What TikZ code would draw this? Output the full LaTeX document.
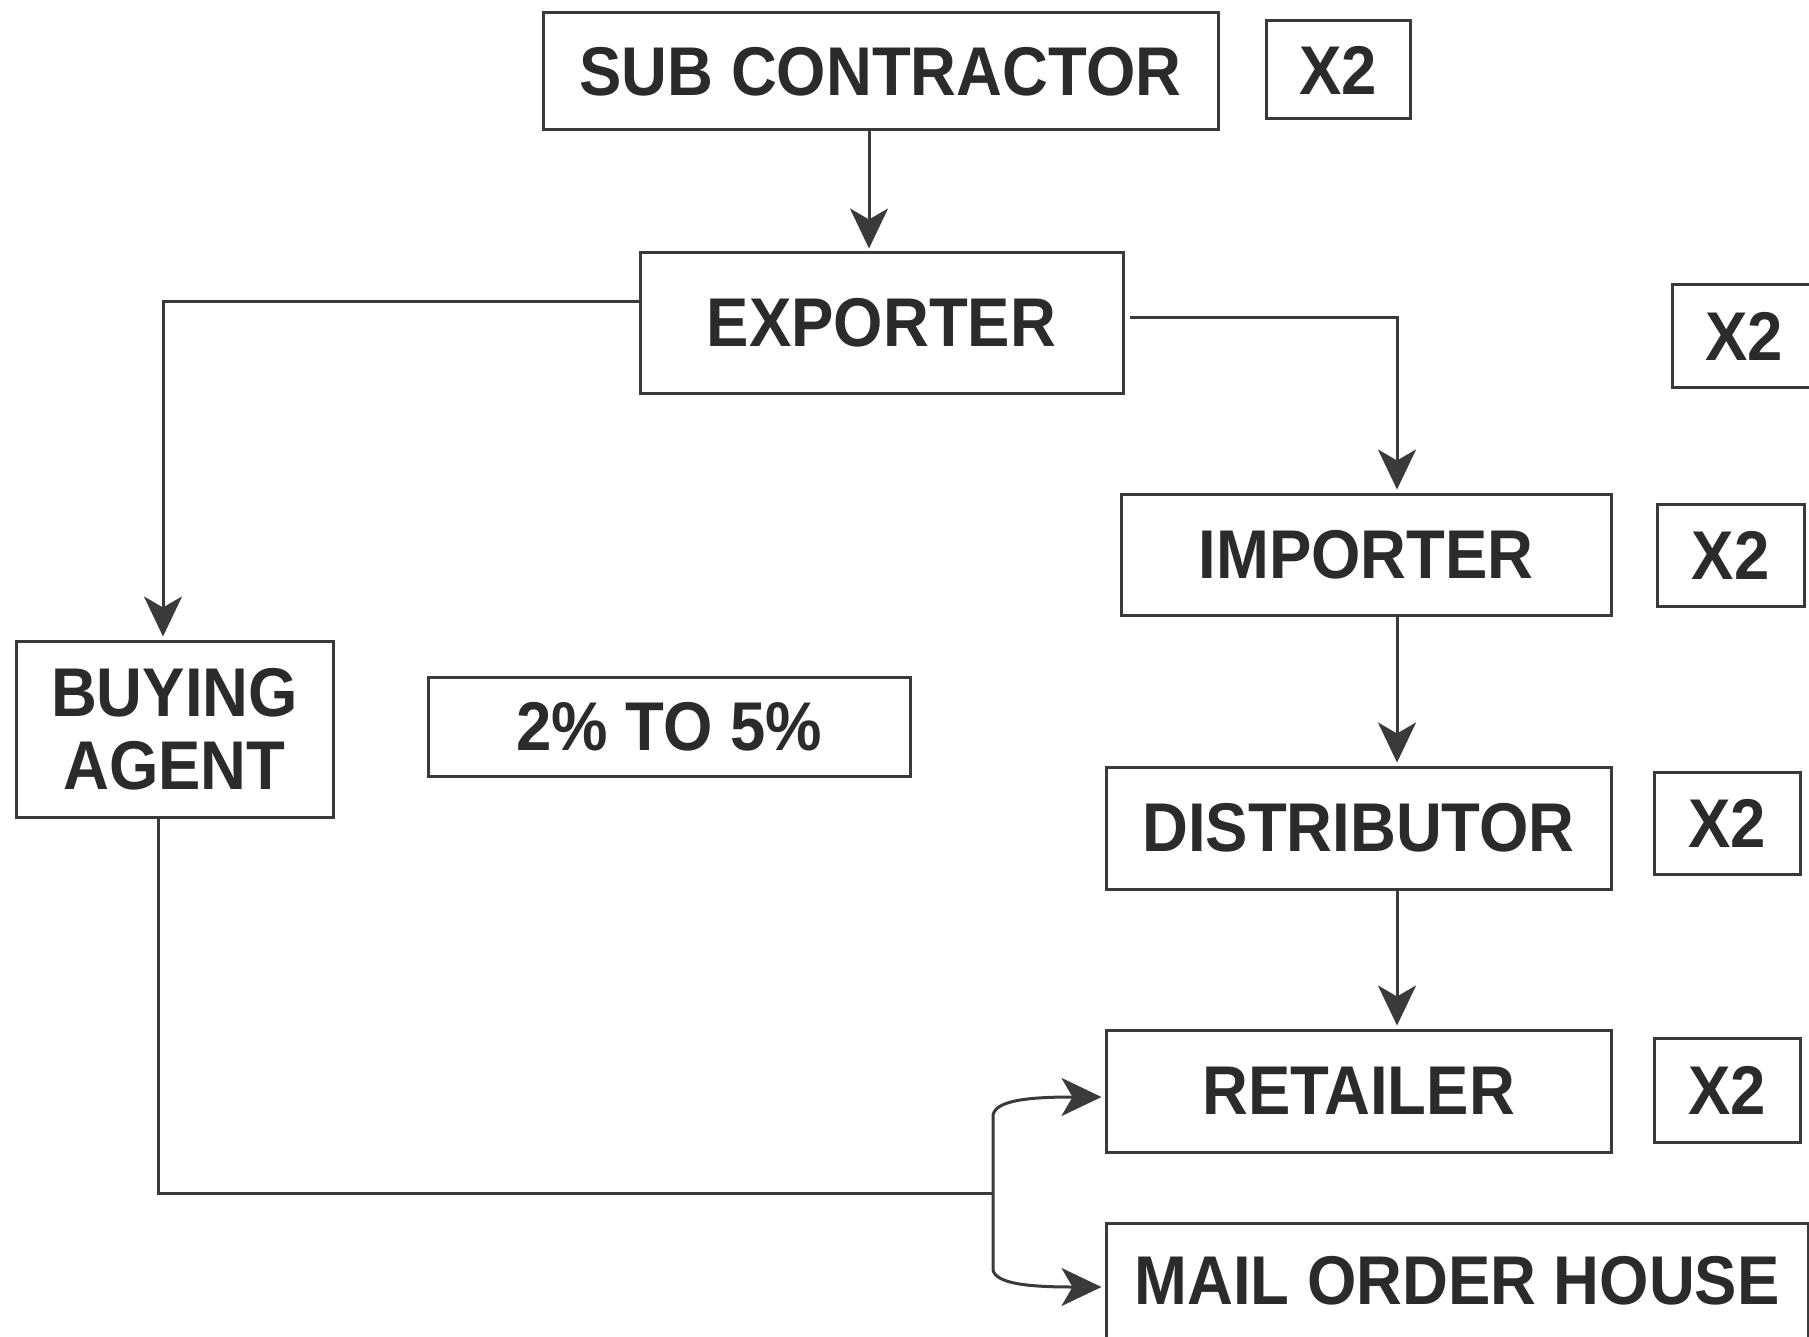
\documentclass[tikz,border=0pt]{standalone}
\usepackage{fontspec}
\setmainfont{Liberation Sans}
\newfontfamily\boxfont[FakeStretch=0.92]{Liberation Sans Bold}
\usetikzlibrary{arrows.meta}
\definecolor{ink}{HTML}{2B2B2B}
\definecolor{linec}{HTML}{3A3A3A}
\tikzset{
  bx/.style={draw=linec, line width=3pt, rectangle, inner sep=0pt, text=ink,
    font=\boxfont\fontsize{69}{73}\selectfont, align=center},
  conn/.style={draw=linec, line width=3pt},
  arr/.style={conn, -{Stealth[length=40pt,width=38pt,inset=11pt]}, shorten >=3pt}
}
\begin{document}
\begin{tikzpicture}[x=1pt,y=-1pt]
\clip (0,0) rectangle (1809,1337);
\fill[white] (0,0) rectangle (1809,1337);
% boxes
\node[bx, minimum width=675pt, minimum height=117pt] (sub) at (880.5,71.5) {SUB CONTRACTOR};
\node[bx, minimum width=144pt, minimum height=98pt] (x2a) at (1338,70) {X2};
\node[bx, minimum width=483pt, minimum height=140pt] (exp) at (881.5,323) {EXPORTER};
\node[bx, minimum width=144pt, minimum height=102pt] (x2b) at (1744,336) {X2};
\node[bx, minimum width=490pt, minimum height=121pt] (imp) at (1366,554.5) {IMPORTER};
\node[bx, minimum width=147pt, minimum height=102pt] (x2c) at (1730.5,555) {X2};
\node[bx, minimum width=317pt, minimum height=176pt] (buy) at (174.5,729) {BUYING\\AGENT};
\node[bx, minimum width=482pt, minimum height=99pt] (pct) at (669,726.5) {2\% TO 5\%};
\node[bx, minimum width=505pt, minimum height=122pt] (dist) at (1358.5,828) {DISTRIBUTOR};
\node[bx, minimum width=146pt, minimum height=102pt] (x2d) at (1727,823) {X2};
\node[bx, minimum width=505pt, minimum height=122pt] (ret) at (1358.5,1091) {RETAILER};
\node[bx, minimum width=146pt, minimum height=104pt] (x2e) at (1727,1090) {X2};
\node[bx, minimum width=702pt, minimum height=116pt] (mail) at (1457,1281) {MAIL ORDER HOUSE};
% connectors
\draw[arr] ([xshift=-11.5pt]sub.south) -- ([xshift=-12.5pt]exp.north);
\draw[arr] ([yshift=21pt]exp.west) -| ([xshift=-11.5pt]buy.north);
\draw[arr] ([xshift=5pt,yshift=5pt]exp.east) -| ([xshift=31pt]imp.north);
\draw[arr] ([xshift=31pt]imp.south) -- ([xshift=38.5pt]dist.north);
\draw[arr] ([xshift=38.5pt]dist.south) -- ([xshift=38.5pt]ret.north);
\coordinate (j) at (993,1193);
\coordinate (jt) at (993,1115);
\coordinate (jb) at (993,1270);
\draw[conn] ([xshift=-16.5pt]buy.south) |- (j);
\draw[arr] (j) -- (jt) .. controls (996,1100) and (1030,1097) .. ([yshift=-6pt]ret.west);
\draw[arr] (j) -- (jb) .. controls (996,1284) and (1030,1287) .. ([yshift=-6pt]mail.west);
\end{tikzpicture}
\end{document}
